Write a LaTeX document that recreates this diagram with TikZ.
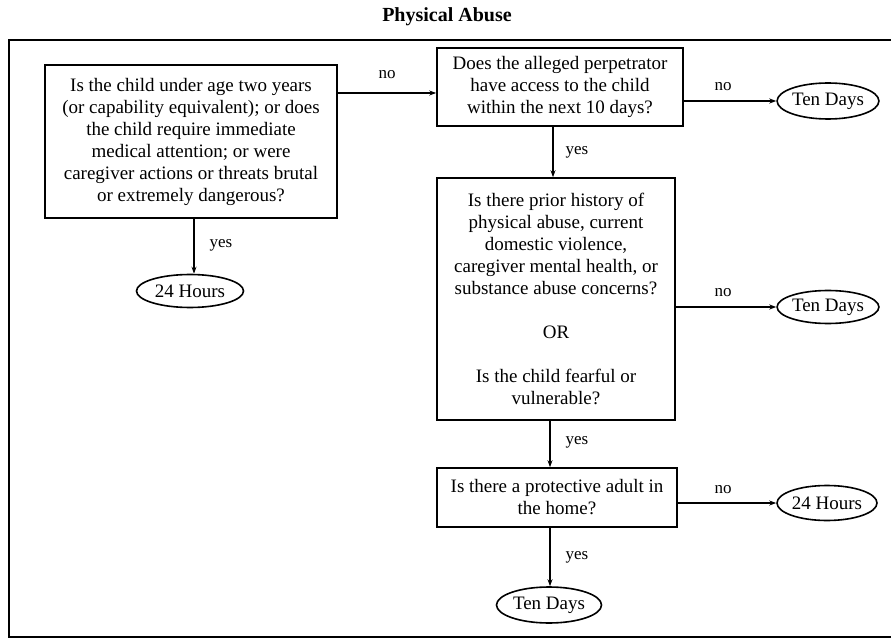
\documentclass[tikz,border=0pt]{standalone}
\usepackage{fontspec}
\setmainfont{Liberation Serif}
\usetikzlibrary{arrows.meta,shapes.geometric}
\begin{document}
\begin{tikzpicture}[x=1pt,y=-1pt,
  qbox/.style={draw,line width=1.6pt,inner sep=0pt,align=center,font=\fontsize{19}{22}\selectfont},
  term/.style={draw,ellipse,line width=1.6pt,inner sep=0pt,font=\fontsize{19}{22}\selectfont},
  lbl/.style={font=\fontsize{17}{20}\selectfont},
  arr/.style={line width=1.4pt,-{Stealth[length=7pt,width=5pt]}}]
\useasboundingbox (0,0) rectangle (891,644);
\draw[line width=2pt] (891,40) -- (9,40) -- (9,637) -- (891,637);
\node[font=\fontsize{20}{24}\selectfont\bfseries] (title) at (447,17) {Physical Abuse};

\node[qbox,minimum width=292pt,minimum height=153pt] (b1) at (191,141.5)
 {Is the child under age two years\\(or capability equivalent); or does\\the child require immediate\\medical attention; or were\\caregiver actions or threats brutal\\or extremely dangerous?};
\node[qbox,minimum width=246pt,minimum height=78pt] (b2) at (560,87)
 {Does the alleged perpetrator\\have access to the child\\within the next 10 days?};
\node[qbox,minimum width=238pt,minimum height=242pt] (b3) at (556,299)
 {Is there prior history of\\physical abuse, current\\domestic violence,\\caregiver mental health, or\\substance abuse concerns?\\[22pt]OR\\[22pt]Is the child fearful or\\vulnerable?};
\node[qbox,minimum width=240pt,minimum height=59pt] (b4) at (557,497.5)
 {Is there a protective adult in\\the home?};

\node[term,minimum width=107pt,minimum height=33pt] (h1) at (190,291) {24 Hours};
\node[term,minimum width=97pt,minimum height=36pt] (t1) at (828,101) {Ten Days};
\node[term,minimum width=99pt,minimum height=33pt] (t2) at (828,307) {Ten Days};
\node[term,minimum width=100pt,minimum height=35pt] (t3) at (827,503) {24 Hours};
\node[term,minimum width=105pt,minimum height=36pt] (t4) at (549,605) {Ten Days};

\coordinate (c1) at (337,93);
\draw[arr] (b1.east |- c1) -- (b2.west |- c1);
\node[lbl] (n1) at (387,75) {no};
\draw[arr] (b1.south -| 194,0) -- (h1.north -| 194,0);
\node[lbl] (y1) at (221,245) {yes};

\draw[arr] (b2.east |- t1.west) -- (t1.west);
\node[lbl] (n2) at (723,87) {no};
\draw[arr] (b2.south -| 553,0) -- (b3.north -| 553,0);
\node[lbl] (y2) at (577,152) {yes};

\draw[arr] (b3.east |- t2.west) -- (t2.west);
\node[lbl] (n3) at (723,293) {no};
\draw[arr] (b3.south -| 550,0) -- (b4.north -| 550,0);
\node[lbl] (y3) at (577,442) {yes};

\draw[arr] (b4.east |- t3.west) -- (t3.west);
\node[lbl] (n4) at (723,490) {no};
\draw[arr] (b4.south -| 550,0) -- (t4.north -| 550,0);
\node[lbl] (y4) at (577,557) {yes};
\end{tikzpicture}
\end{document}
